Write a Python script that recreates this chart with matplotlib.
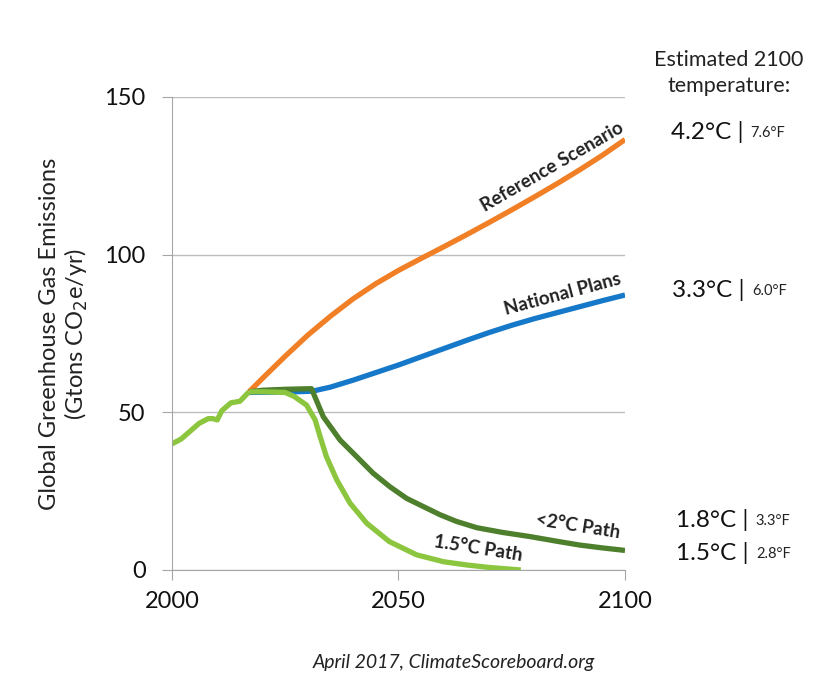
import matplotlib
matplotlib.use('Agg')
import matplotlib.pyplot as plt

plt.rcParams['font.family'] = ['Lato', 'DejaVu Sans']

# historical emissions (shared start of all paths)
hist_years = [2000, 2002, 2004, 2006, 2008, 2009, 2010, 2011, 2013, 2015, 2017]
hist_vals = [40, 41.5, 44, 46.5, 48, 48, 47.6, 50.5, 53, 53.5, 56.5]

# 1.5C path
p15_years = [2017, 2020, 2025, 2027, 2029.7, 2031.6, 2032.7, 2034.1, 2036.4, 2039.3, 2043, 2048, 2054, 2060, 2065, 2070, 2077]
p15_vals = [56.5, 56.5, 56.3, 55, 52.3, 47.6, 42.3, 35.9, 28.5, 21.2, 14.8, 9, 4.8, 2.6, 1.6, 0.8, 0]

# <2C path
p2_years = [2017, 2020, 2025, 2030.8, 2033.4, 2037.1, 2040.8, 2044.4, 2048.1, 2051.8, 2055.5, 2059.2, 2062.8, 2067.3, 2073, 2079, 2085, 2090, 2095, 2100]
p2_vals = [56.5, 57, 57.3, 57.5, 48.6, 41.2, 35.9, 30.7, 26.4, 22.7, 20.1, 17.5, 15.4, 13.4, 11.9, 10.6, 9.1, 7.9, 7, 6.2]

# reference scenario
ref_years = [2017, 2020, 2025, 2030, 2035, 2040, 2045, 2050, 2055, 2060, 2065, 2070, 2075, 2080, 2085, 2090, 2095, 2100]
ref_vals = [56.5, 60.8, 67.8, 74.5, 80.5, 86, 90.8, 95, 98.8, 102.5, 106.3, 110.2, 114.2, 118.3, 122.5, 126.9, 131.5, 136.5]

# national plans
nat_years = [2017, 2025, 2031, 2035, 2040, 2045, 2050, 2055, 2060, 2065, 2070, 2075, 2080, 2085, 2090, 2095, 2100]
nat_vals = [56.3, 56.4, 56.7, 58, 60.2, 62.6, 65, 67.6, 70.2, 72.8, 75.3, 77.6, 79.7, 81.6, 83.5, 85.4, 87.2]

temps_c = ['4.2°C', '3.3°C', '1.8°C', '1.5°C']
temps_f = ['7.6°F', '6.0°F', '3.3°F', '2.8°F']

fig = plt.figure(figsize=(8.3, 6.84), dpi=100)
ax = fig.add_axes([0.2072, 0.1667, 0.5458, 0.6915])

lw = 3.8
ax.plot(ref_years, ref_vals, color='#F07F25', lw=lw, solid_capstyle='butt', solid_joinstyle='round')
ax.plot(nat_years, nat_vals, color='#1678C8', lw=lw, solid_capstyle='butt', solid_joinstyle='round')
ax.plot(p2_years, p2_vals, color='#4E7F2C', lw=lw, solid_capstyle='butt', solid_joinstyle='round')
ax.plot(p15_years, p15_vals, color='#8CC63F', lw=lw, solid_capstyle='butt', solid_joinstyle='round')
ax.plot(hist_years, hist_vals, color='#8CC63F', lw=lw, solid_capstyle='butt', solid_joinstyle='round')

ax.set_xlim(2000, 2100)
ax.set_ylim(0, 150)
ax.set_xticks([2000, 2050, 2100])
ax.set_yticks([0, 50, 100, 150])
ax.yaxis.grid(True, color='#BDBDBD', lw=1)
ax.set_axisbelow(True)
for s in ['top', 'right']:
    ax.spines[s].set_visible(False)
for s in ['left', 'bottom']:
    ax.spines[s].set_color('#A6A6A6')
ax.tick_params(axis='both', colors='#A6A6A6', length=7, labelsize=17, labelcolor='#111111')
ax.tick_params(axis='x', pad=8)
ax.tick_params(axis='y', pad=12)

ax.set_ylabel('Global Greenhouse Gas Emissions\n(Gtons CO$_2$e/yr)', fontsize=17,
              color='#222222', labelpad=10, linespacing=1.15)

# line labels
lab = dict(fontsize=13.5, fontweight='bold', ha='center', va='center', color='#222222')
ax.text(2084, 128, 'Reference Scenario', rotation=30, **lab)
ax.text(2086.2, 87.5, 'National Plans', rotation=15, **lab)
ax.text(2089.6, 14, '<2°C Path', rotation=-9, **lab)
ax.text(2067.5, 6.8, '1.5°C Path', rotation=-9, **lab)

# right side temperatures
fig.text(0.878, 0.893, 'Estimated 2100\ntemperature:', fontsize=15.5, ha='center', va='center',
         color='#222222', linespacing=1.4)
for c, f, y, dx in zip(temps_c, temps_f, [139, 88.8, 15.9, 5.4], [33, 34, 37, 37]):
    t = ax.annotate(c + ' |', xy=(1, y), xycoords=('axes fraction', 'data'),
                    xytext=(dx, 0), textcoords='offset points', fontsize=17.5,
                    ha='left', va='center', color='#111111')
    ax.annotate(f, xy=(1, 0.5), xycoords=t, xytext=(5, -1), textcoords='offset points',
                fontsize=10.5, ha='left', va='center', color='#222222')

fig.text(0.547, 0.032, 'April 2017, ClimateScoreboard.org', fontsize=14, style='italic',
         ha='center', va='center', color='#222222')

fig.savefig('out.png', dpi=100, facecolor='white')
